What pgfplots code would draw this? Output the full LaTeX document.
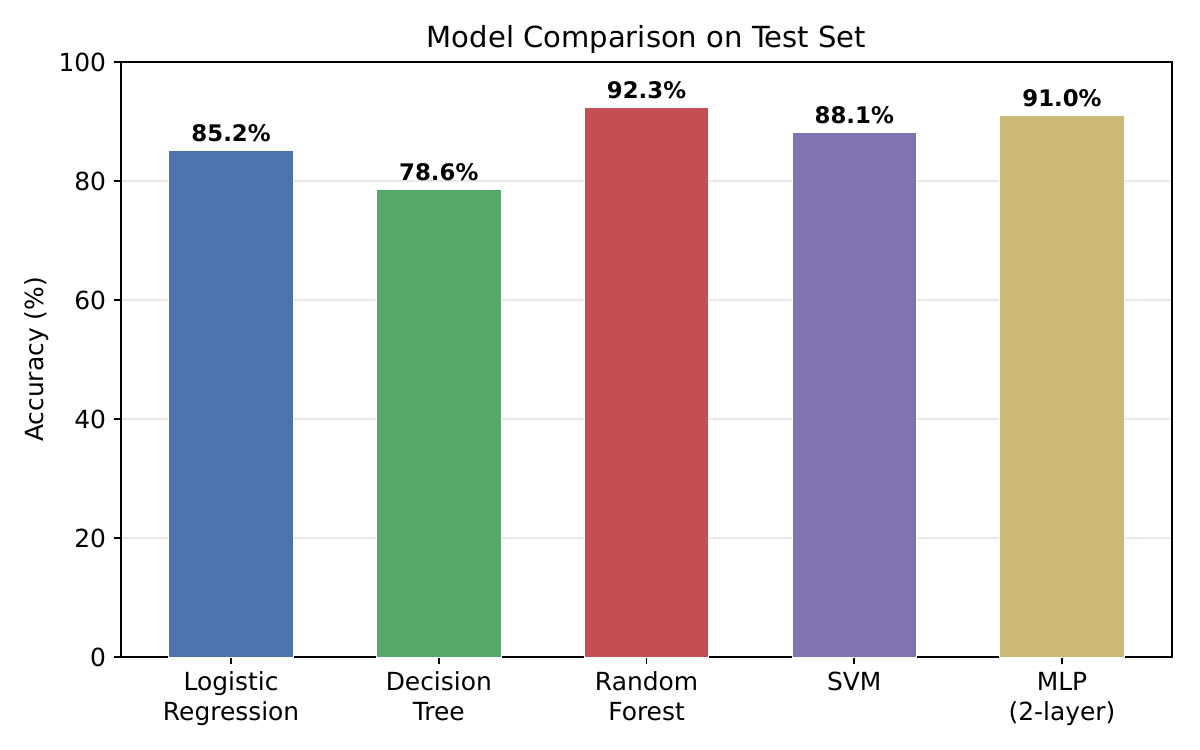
\documentclass[border=0pt]{standalone}
\usepackage{pgfplots}
\pgfplotsset{compat=1.18}
\usepackage{fontspec}
\setmainfont{DejaVu Sans}

\definecolor{cLR}{HTML}{4C72B0}
\definecolor{cDT}{HTML}{55A868}
\definecolor{cRF}{HTML}{C44E52}
\definecolor{cSVM}{HTML}{8172B2}
\definecolor{cMLP}{HTML}{CCB974}
\definecolor{gridgray}{HTML}{E8E8E8}

\begin{document}
\begin{tikzpicture}
\path[use as bounding box] (0,0) rectangle (578.16pt,361.35pt);
\begin{axis}[
  at={(58.3pt,44.75pt)}, anchor=south west,
  scale only axis, width=506.4pt, height=286.7pt,
  ybar, bar width=0.6, bar shift=0pt,
  xmin=-0.53, xmax=4.53, ymin=0, ymax=100,
  xtick={0,1,2,3,4},
  xticklabels={{Logistic\\Regression},{Decision\\Tree},{Random\\Forest},{SVM},{MLP\\(2-layer)}},
  ytick={0,20,40,60,80,100},
  /pgf/number format/assume math mode=true,
  tick align=outside, tick pos=left,
  major tick length=3.5pt,
  every tick/.style={black, line width=0.8pt},
  axis line style={black, line width=0.8pt},
  ymajorgrids, major grid style={gridgray, line width=0.8pt},
  axis on top=false,
  xticklabel style={font=\fontsize{12}{14.4}\selectfont, align=center, anchor=north, yshift=-3.5pt, inner sep=0pt},
  yticklabel style={font=\fontsize{12}{14.4}\selectfont, anchor=east, xshift=-3.5pt, inner sep=0pt},
  ylabel={Accuracy (\%)},
  ylabel style={font=\fontsize{12}{14.4}\selectfont, at={(axis description cs:-0.08,0.5)}, anchor=center, inner sep=0pt},
  title={Model Comparison on Test Set},
  title style={font=\fontsize{14}{16.8}\selectfont, at={(0.5,1)}, anchor=south, inner sep=0pt, yshift=-2.2pt},
  nodes near coords={\pgfmathprintnumber[fixed,fixed zerofill,precision=1]{\pgfplotspointmeta}\%},
  every node near coord/.append style={font=\fontsize{11}{13.2}\selectfont\bfseries, anchor=base, inner sep=0pt, yshift=4.3pt, black},
  point meta=y,
]
\addplot[fill=cLR, draw=white, line width=0.4pt] coordinates {(0,85.2)};
\addplot[fill=cDT, draw=white, line width=0.4pt] coordinates {(1,78.6)};
\addplot[fill=cRF, draw=white, line width=0.4pt] coordinates {(2,92.3)};
\addplot[fill=cSVM, draw=white, line width=0.4pt] coordinates {(3,88.1)};
\addplot[fill=cMLP, draw=white, line width=0.4pt] coordinates {(4,91.0)};
\end{axis}
\end{tikzpicture}
\end{document}
